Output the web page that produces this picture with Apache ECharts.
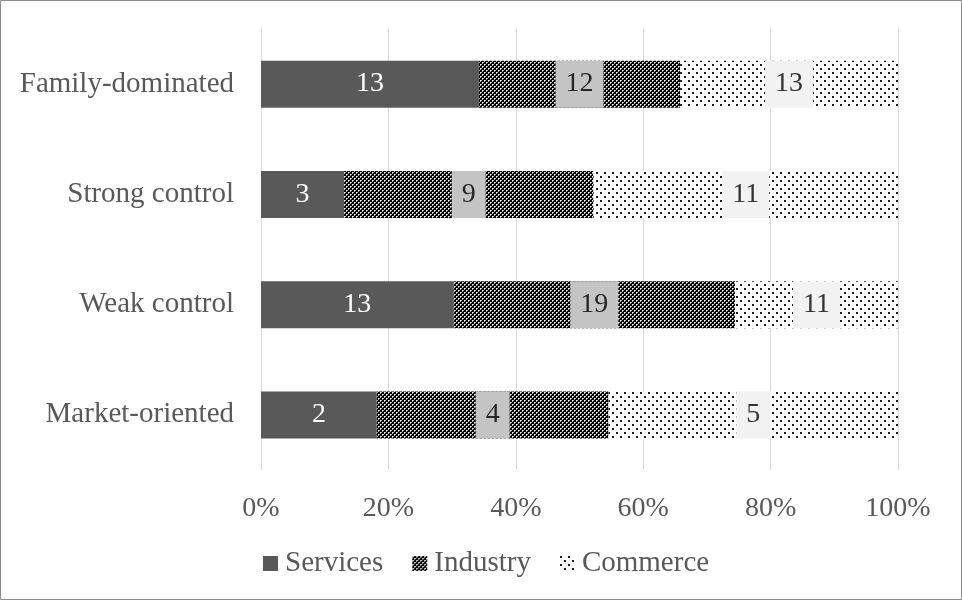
<!DOCTYPE html>
<html>
<head>
<meta charset="utf-8">
<script src="https://cdn.jsdelivr.net/npm/echarts@6/dist/echarts.min.js"></script>
<style>
  html, body { margin: 0; padding: 0; background: #fff; }
  #chart { width: 962px; height: 600px; }
</style>
</head>
<body>
<div id="chart"></div>
<script>
// Firm counts per ownership type, shown as a 100% stacked bar
const categories = ['Family-dominated', 'Strong control', 'Weak control', 'Market-oriented'];
const services = [13, 3, 13, 2];
const industry = [12, 9, 19, 4];
const commerce = [13, 11, 11, 5];
const xTicks = [0, 20, 40, 60, 80, 100];

const totals = categories.map((_, i) => services[i] + industry[i] + commerce[i]);
const share = (arr) => arr.map((v, i) => ({ value: v / totals[i] * 100, count: v }));

// Repeating fill patterns drawn on small canvases
function checkerTile() {
  const c = document.createElement('canvas');
  c.width = 4; c.height = 4;
  const g = c.getContext('2d');
  g.fillStyle = '#000';
  g.fillRect(0, 0, 4, 4);
  g.fillStyle = '#ffffff';
  g.fillRect(0, 0, 1, 1);
  g.fillRect(2, 2, 1, 1);
  g.fillStyle = '#a8a8a8';
  g.fillRect(1, 0, 1, 1);
  g.fillRect(0, 1, 1, 1);
  g.fillRect(3, 2, 1, 1);
  g.fillRect(2, 3, 1, 1);
  return c;
}
function dotTile() {
  const c = document.createElement('canvas');
  c.width = 8; c.height = 8;
  const g = c.getContext('2d');
  g.fillStyle = '#fff';
  g.fillRect(0, 0, 8, 8);
  g.fillStyle = '#1a1a1a';
  g.fillRect(0, 0, 2, 2);
  g.fillRect(4, 4, 2, 2);
  return c;
}

const FONT = 'Liberation Serif';
const industryFill = { image: checkerTile(), repeat: 'repeat' };
const commerceFill = { image: dotTile(), repeat: 'repeat' };

const labelBase = {
  show: true,
  position: 'inside',
  fontFamily: FONT,
  fontSize: 28,
  lineHeight: 29,
  formatter: (p) => p.data.count
};

const chart = echarts.init(document.getElementById('chart'), null, { renderer: 'canvas' });
chart.setOption({
  animation: false,
  backgroundColor: '#fff',
  grid: { left: 261, right: 64, top: 29, bottom: 130 },
  xAxis: {
    type: 'value',
    min: xTicks[0], max: xTicks[xTicks.length - 1], interval: xTicks[1] - xTicks[0],
    axisLine: { show: false },
    axisTick: { show: false },
    splitLine: { lineStyle: { color: '#d9d9d9', width: 1 } },
    axisLabel: {
      formatter: '{value}%',
      fontFamily: FONT, fontSize: 28, color: '#595959', margin: 25
    }
  },
  yAxis: {
    type: 'category',
    data: categories,
    inverse: true,
    axisLine: { show: false },
    axisTick: { show: false },
    axisLabel: { fontFamily: FONT, fontSize: 29, color: '#595959', margin: 27 }
  },
  legend: {
    left: 263, top: 549, padding: 0,
    itemWidth: 15, itemHeight: 15, itemGap: 29,
    icon: 'rect',
    textStyle: { fontFamily: FONT, fontSize: 29, color: '#595959', padding: [0, 0, 0, 2] },
    data: ['Services', 'Industry', 'Commerce']
  },
  graphic: [{
    type: 'rect',
    shape: { x: 0.5, y: 0.5, width: 961, height: 599 },
    style: { fill: 'none', stroke: '#8c8c8c', lineWidth: 1 },
    silent: true
  }],
  series: [
    {
      name: 'Services', type: 'bar', stack: 'all', barWidth: 47,
      itemStyle: { color: '#595959' },
      label: Object.assign({}, labelBase, { color: '#ffffff' }),
      data: share(services)
    },
    {
      name: 'Industry', type: 'bar', stack: 'all', barWidth: 47,
      itemStyle: { color: industryFill },
      label: Object.assign({}, labelBase, {
        color: '#262626', backgroundColor: '#c4c4c4', padding: [9, 10]
      }),
      data: share(industry)
    },
    {
      name: 'Commerce', type: 'bar', stack: 'all', barWidth: 47,
      itemStyle: { color: commerceFill },
      label: Object.assign({}, labelBase, {
        color: '#333333', backgroundColor: '#f2f2f2', padding: [9, 10]
      }),
      data: share(commerce)
    }
  ]
});
</script>
</body>
</html>
